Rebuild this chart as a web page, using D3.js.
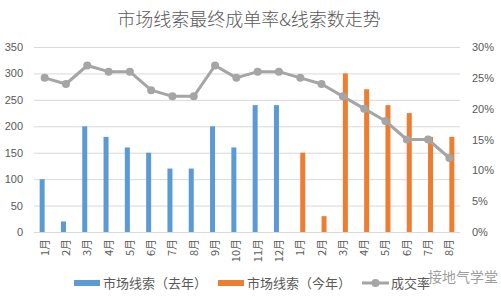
<!DOCTYPE html>
<html>
<head>
<meta charset="utf-8">
<script src="https://cdn.jsdelivr.net/npm/d3@7"></script>
<style>
  body { margin: 0; background: #fff; }
  text { font-family: "Microsoft YaHei", "Noto Sans CJK SC", sans-serif; }
</style>
</head>
<body>
<div id="chart"></div>
<script>
// Data
const months = ['1月','2月','3月','4月','5月','6月','7月','8月','9月','10月','11月','12月',
                '1月','2月','3月','4月','5月','6月','7月','8月'];
const lastYear = [100, 20, 200, 180, 160, 150, 120, 120, 200, 160, 240, 240,
                  null, null, null, null, null, null, null, null];
const thisYear = [null, null, null, null, null, null, null, null, null, null, null, null,
                  150, 30, 300, 270, 240, 225, 180, 180];
const rate = [0.25, 0.24, 0.27, 0.26, 0.26, 0.23, 0.22, 0.22, 0.27, 0.25, 0.26, 0.26,
              0.25, 0.24, 0.22, 0.20, 0.18, 0.15, 0.15, 0.12];
const leftTicks = [0, 50, 100, 150, 200, 250, 300, 350];
const rightTicks = [0, 0.05, 0.10, 0.15, 0.20, 0.25, 0.30];

const W = 501, H = 300;
const margin = { top: 47, right: 41, bottom: 68, left: 34 };
const iw = W - margin.left - margin.right;
const ih = H - margin.top - margin.bottom;

const svg = d3.select('#chart').append('svg')
    .attr('width', W).attr('height', H);

// title
svg.append('text')
    .attr('x', 249).attr('y', 26)
    .attr('text-anchor', 'middle')
    .attr('font-size', 18)
    .attr('font-weight', 300)
    .attr('fill', '#595959')
    .text('市场线索最终成单率&线索数走势');

const g = svg.append('g').attr('transform', `translate(${margin.left},${margin.top})`);

const idx = d3.range(months.length);
const x = d3.scaleBand().domain(idx).range([0, iw]).paddingInner(0.53).paddingOuter(0.265);
const xs = d3.scaleBand().domain(['last', 'this']).range([0, x.bandwidth()]);
const yL = d3.scaleLinear().domain([0, 350]).range([ih, 0]);
const yR = d3.scaleLinear().domain([0, 0.30]).range([ih, 0]);
const cx = i => x(i) + x.bandwidth() / 2;

// gridlines
g.append('g').selectAll('line').data(leftTicks).join('line')
    .attr('x1', 0).attr('x2', iw)
    .attr('y1', d => yL(d) + 0.5).attr('y2', d => yL(d) + 0.5)
    .attr('stroke', '#d9d9d9').attr('stroke-width', 1);

// left axis
const axL = g.append('g').attr('transform', 'translate(-11,0)')
    .call(d3.axisLeft(yL).tickValues(leftTicks).tickSize(0).tickPadding(0));
axL.select('.domain').remove();
axL.selectAll('text').attr('font-size', 11).attr('fill', '#595959')
    .style('font-family', 'Arial, "Liberation Sans", sans-serif');

// right axis
const axR = g.append('g').attr('transform', `translate(${iw + 12},0)`)
    .call(d3.axisRight(yR).tickValues(rightTicks).tickSize(0).tickPadding(0).tickFormat(d3.format('.0%')));
axR.select('.domain').remove();
axR.selectAll('text').attr('font-size', 11).attr('fill', '#595959')
    .style('font-family', 'Arial, "Liberation Sans", sans-serif');

// x labels (rotated)
g.append('g').selectAll('text').data(idx).join('text')
    .attr('transform', i => `translate(${cx(i) + 4},${ih + 7}) rotate(-90)`)
    .attr('text-anchor', 'end')
    .attr('font-size', 11)
    .attr('fill', '#595959')
    .text(i => months[i]);

// bars
g.append('g').selectAll('rect').data(idx.filter(i => lastYear[i] != null)).join('rect')
    .attr('x', i => x(i) + xs('last'))
    .attr('width', xs.bandwidth())
    .attr('y', i => yL(lastYear[i]))
    .attr('height', i => ih - yL(lastYear[i]))
    .attr('fill', '#5b9bd5');

g.append('g').selectAll('rect').data(idx.filter(i => thisYear[i] != null)).join('rect')
    .attr('x', i => x(i) + xs('this'))
    .attr('width', xs.bandwidth())
    .attr('y', i => yL(thisYear[i]))
    .attr('height', i => ih - yL(thisYear[i]))
    .attr('fill', '#ed7d31');

// line
const line = d3.line().x(i => cx(i)).y(i => yR(rate[i]));
g.append('path').datum(idx)
    .attr('d', line)
    .attr('fill', 'none')
    .attr('stroke', '#a5a5a5')
    .attr('stroke-width', 3)
    .attr('stroke-linejoin', 'round');
g.append('g').selectAll('circle').data(idx).join('circle')
    .attr('cx', i => cx(i)).attr('cy', i => yR(rate[i]))
    .attr('r', 4)
    .attr('fill', '#a5a5a5');

// axis baseline
g.append('line').attr('x1', 0).attr('x2', iw)
    .attr('y1', ih + 0.5).attr('y2', ih + 0.5)
    .attr('stroke', '#d9d9d9');

// legend
const leg = svg.append('g').attr('transform', 'translate(0,283)');
const legItems = [
    { x: 74, label: '市场线索（去年）', color: '#5b9bd5', type: 'bar' },
    { x: 218, label: '市场线索（今年）', color: '#ed7d31', type: 'bar' },
    { x: 362, label: '成交率', color: '#a5a5a5', type: 'line' }
];
legItems.forEach(d => {
    const it = leg.append('g').attr('transform', `translate(${d.x},0)`);
    if (d.type === 'bar') {
        it.append('rect').attr('x', 0).attr('y', -3).attr('width', 26).attr('height', 6).attr('fill', d.color);
    } else {
        it.append('line').attr('x1', 0).attr('x2', 27).attr('y1', 0).attr('y2', 0)
            .attr('stroke', d.color).attr('stroke-width', 3);
        it.append('circle').attr('cx', 13.5).attr('cy', 0).attr('r', 4).attr('fill', d.color);
    }
    it.append('text').attr('x', 29).attr('y', 5)
        .attr('font-size', 13).attr('fill', '#595959')
        .text(d.label);
});

// watermark
svg.append('text')
    .attr('x', 428).attr('y', 282)
    .attr('font-size', 14)
    .attr('fill', '#8c8c8c')
    .attr('fill-opacity', 0.85)
    .text('接地气学堂');
</script>
</body>
</html>
